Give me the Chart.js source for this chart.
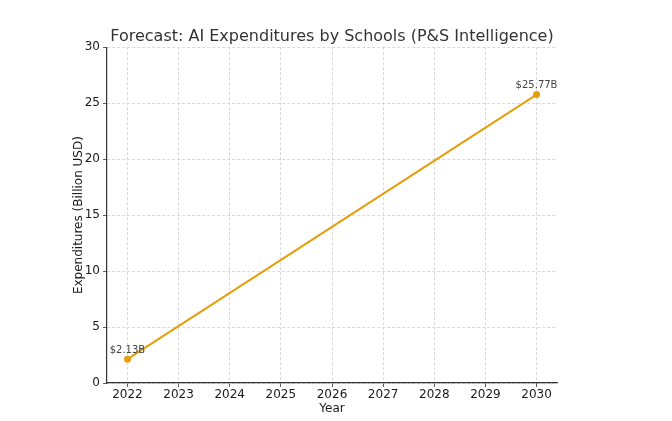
<!DOCTYPE html>
<html>
<head>
<meta charset="utf-8">
<script src="https://cdn.jsdelivr.net/npm/chart.js@4"></script>
<style>
  html, body { margin: 0; padding: 0; background: #fff; }
  #wrap { width: 672px; height: 421px; }
</style>
</head>
<body>
<div id="wrap"><canvas id="chart" width="672" height="421"></canvas></div>
<script>
// values
const years = [2022, 2030];
const spending = [2.13, 25.77];
const pointLabels = ['$2.13B', '$25.77B'];
const xTicks = [2022, 2023, 2024, 2025, 2026, 2027, 2028, 2029, 2030];
const yTicks = [0, 5, 10, 15, 20, 25, 30];

const lineColor = '#E59E0C';
const font = 'DejaVu Sans';

// labels above the two points
const valueLabels = {
    id: 'valueLabels',
    afterDatasetsDraw(chart) {
        const ctx = chart.ctx;
        const meta = chart.getDatasetMeta(0);
        ctx.save();
        ctx.font = '10px "' + font + '"';
        ctx.fillStyle = '#444';
        ctx.textAlign = 'center';
        ctx.textBaseline = 'bottom';
        meta.data.forEach((pt, i) => {
            ctx.fillText(pointLabels[i], pt.x, pt.y - 4);
        });
        ctx.restore();
    }
};

new Chart(document.getElementById('chart'), {
    type: 'line',
    data: {
        datasets: [{
            data: years.map((y, i) => ({ x: y, y: spending[i] })),
            borderColor: lineColor,
            backgroundColor: lineColor,
            borderWidth: 2,
            pointRadius: 3.5,
            pointBorderWidth: 0,
            tension: 0,
            fill: false
        }]
    },
    options: {
        responsive: false,
        animation: false,
        layout: { padding: { left: 72, right: 115, top: 0, bottom: 4 } },
        plugins: {
            legend: { display: false },
            tooltip: { enabled: false },
            title: {
                display: true,
                fullSize: false,
                text: 'Forecast: AI Expenditures by Schools (P&S Intelligence)',
                color: '#333',
                font: { family: font, size: 16, weight: 'normal' },
                padding: { top: 27, bottom: 1 }
            }
        },
        scales: {
            x: {
                type: 'linear',
                min: 2021.6,
                max: 2030.4,
                afterBuildTicks: axis => { axis.ticks = xTicks.map(v => ({ value: v })); },
                afterFit: axis => { axis.height = 34; },
                ticks: {
                    color: '#1a1a1a',
                    font: { family: font, size: 12 },
                    padding: 1,
                    maxRotation: 0,
                    callback: v => String(v)
                },
                grid: {
                    color: '#cfcfcf',
                    lineWidth: 0.8,
                    tickLength: 4,
                    tickColor: '#333',
                    tickBorderDash: []
                },
                border: { display: true, color: '#333', width: 1.2, dash: [3, 2] },
                title: {
                    display: true,
                    text: 'Year',
                    color: '#1a1a1a',
                    font: { family: font, size: 12 },
                    padding: { top: 0, bottom: 1 }
                }
            },
            y: {
                min: 0,
                max: 30,
                afterBuildTicks: axis => { axis.ticks = yTicks.map(v => ({ value: v })); },
                afterFit: axis => { axis.width = 35; },
                ticks: {
                    color: '#1a1a1a',
                    font: { family: font, size: 12 },
                    padding: 3
                },
                grid: {
                    color: '#cfcfcf',
                    lineWidth: 0.8,
                    tickLength: 4,
                    tickColor: '#333',
                    tickBorderDash: []
                },
                border: { display: true, color: '#333', width: 1.2, dash: [3, 2] },
                title: {
                    display: true,
                    text: 'Expenditures (Billion USD)',
                    color: '#1a1a1a',
                    font: { family: font, size: 12 },
                    padding: { top: 0, bottom: 4 }
                }
            }
        }
    },
    plugins: [valueLabels]
});
</script>
</body>
</html>
